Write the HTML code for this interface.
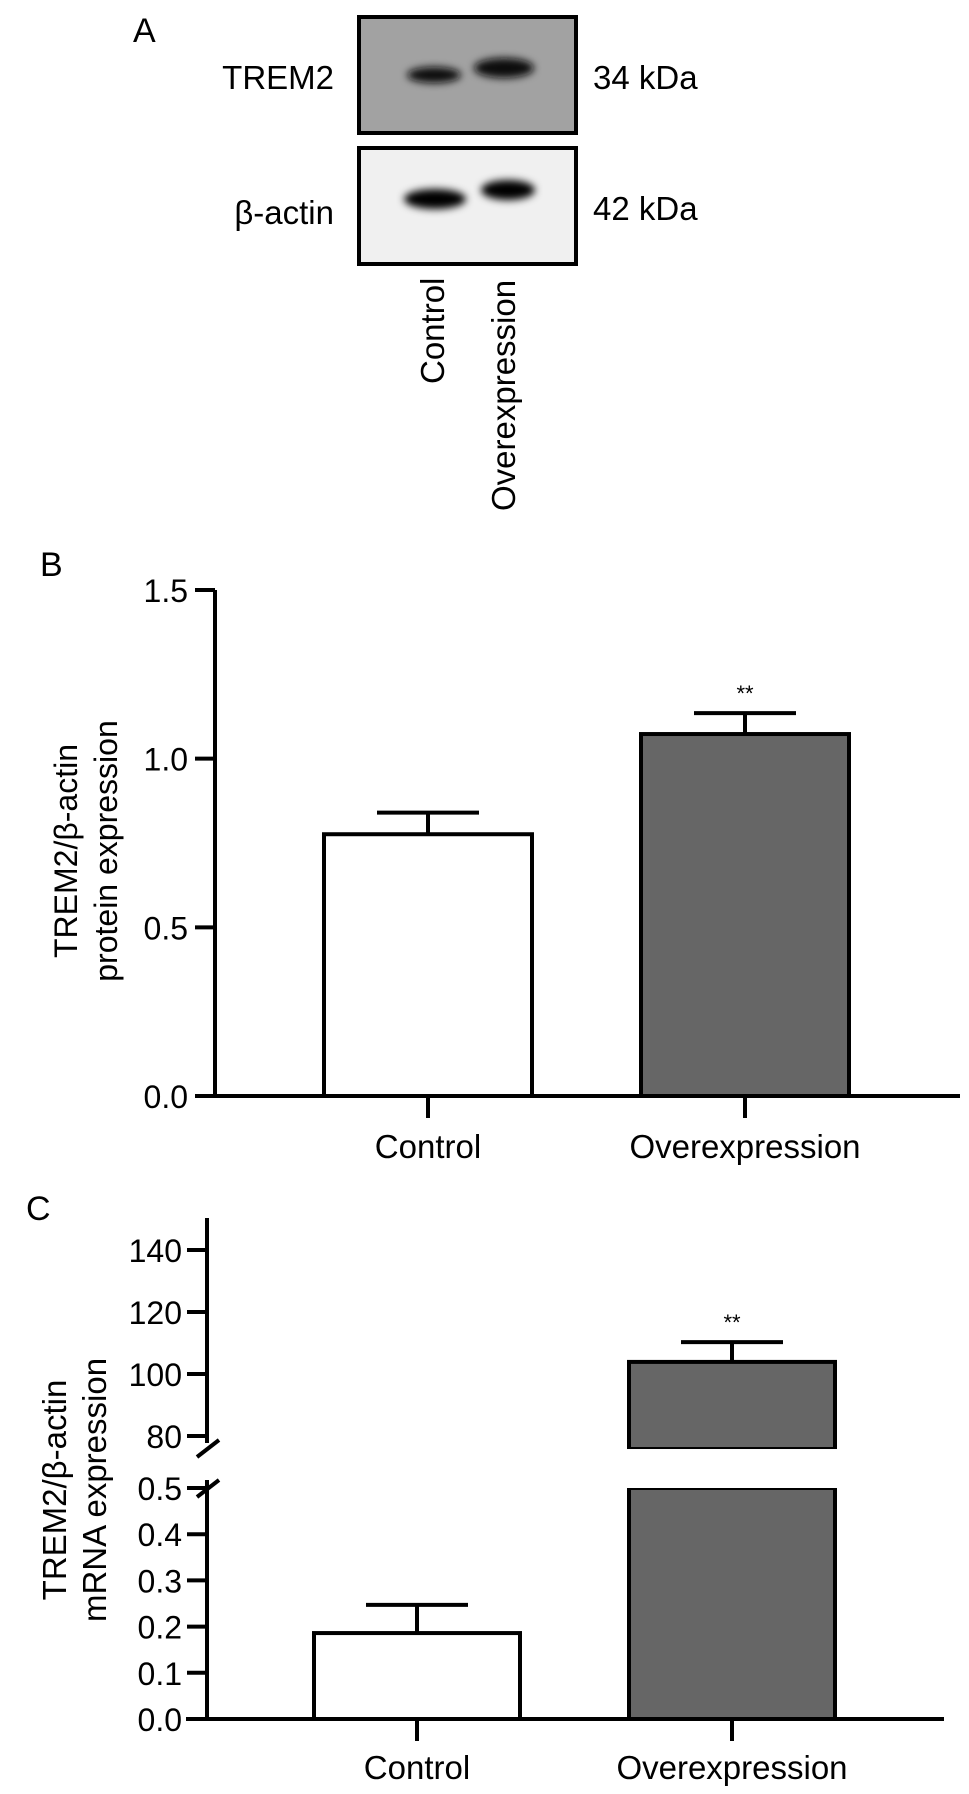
<!DOCTYPE html>
<html><head><meta charset="utf-8"><style>
html,body{margin:0;padding:0;background:#fff;}
svg{display:block;font-family:"Liberation Sans",Arial,sans-serif;}
</style></head><body>
<svg id="fig" width="969" height="1794" viewBox="0 0 969 1794" xmlns="http://www.w3.org/2000/svg">
<defs>
<filter id="blur" x="-30%" y="-60%" width="160%" height="220%"><feGaussianBlur stdDeviation="4"/></filter>
</defs>
<!-- Panel A -->
<g>
<text x="133" y="42" font-size="34">A</text>
<rect x="359" y="17" width="217" height="116" fill="#a2a2a2" stroke="#000" stroke-width="4"/>
<ellipse cx="434" cy="75" rx="27" ry="8" fill="#111" filter="url(#blur)"/>
<ellipse cx="504" cy="68" rx="30" ry="10" fill="#0a0a0a" filter="url(#blur)"/>
<rect x="359" y="148" width="217" height="116" fill="#f0f0f0" stroke="#000" stroke-width="4"/>
<ellipse cx="435" cy="199" rx="31" ry="10" fill="#000" filter="url(#blur)"/>
<ellipse cx="508" cy="190" rx="27" ry="10" fill="#000" filter="url(#blur)"/>
<text x="334" y="89" font-size="33" text-anchor="end">TREM2</text>
<text x="334" y="224" font-size="33" text-anchor="end">β-actin</text>
<text x="593" y="89" font-size="33">34 kDa</text>
<text x="593" y="220" font-size="33">42 kDa</text>
<text transform="translate(444,384) rotate(-90)" font-size="33">Control</text>
<text transform="translate(515,511) rotate(-90)" font-size="33">Overexpression</text>
</g>
<g id="panelB"></g>
<g id="panelC"></g>
</svg>
<script>
// Panel B data
const bCategories = ["Control", "Overexpression"];
const bValues = [0.776, 1.073];
const bErrors = [0.064, 0.062];
const bTicks = [0.0, 0.5, 1.0, 1.5];
const bTickLabels = ["0.0", "0.5", "1.0", "1.5"];
const bSig = ["", "**"];
// Panel C data
const cCategories = ["Control", "Overexpression"];
const cValues = [0.186, 103.9];
const cErrors = [0.061, 6.4];
const cLowTicks = [0.0, 0.1, 0.2, 0.3, 0.4, 0.5];
const cLowTickLabels = ["0.0", "0.1", "0.2", "0.3", "0.4", "0.5"];
const cHighTicks = [80, 100, 120, 140];
const cHighTickLabels = ["80", "100", "120", "140"];
const cSig = ["", "**"];

const NS = "http://www.w3.org/2000/svg";
function mk(parent, tag, attrs, text) {
  const e = document.createElementNS(NS, tag);
  for (const k in attrs) e.setAttribute(k, attrs[k]);
  if (text !== undefined) e.textContent = text;
  parent.appendChild(e);
  return e;
}
const fills = ["#ffffff", "#666666"];

// ---- Panel B ----
(function () {
  const g = document.getElementById("panelB");
  const y = v => 1096 - v * (1096 - 590) / 1.5;
  const axX = 215;
  const cx = [428, 745];
  const bw = 208;
  let t = mk(g, "text", {x: 40, y: 576, "font-size": 34});
  t.textContent = "B";
  
  
  bTicks.forEach((v, i) => {
    const tk = mk(g, "line", {x1: axX - 20, x2: axX, y1: y(v), y2: y(v), stroke: "#000", "stroke-width": 4});
    
    
    const lb = mk(g, "text", {x: 188, y: y(v) + 12, "font-size": 32, "text-anchor": "end"}, bTickLabels[i]);
    
    
  });
  bCategories.forEach((c, i) => {
    const top = y(bValues[i]);
    const bar = mk(g, "rect", {x: cx[i] - bw / 2, y: top, width: bw, height: y(0) - top, fill: fills[i], stroke: "#000", "stroke-width": 4});
    
    
    const et = y(bValues[i] + bErrors[i]);
    const el = mk(g, "path", {d: `M${cx[i]},${top}V${et}M${cx[i] - 51},${et}H${cx[i] + 51}`, stroke: "#000", "stroke-width": 4, fill: "none"});
    
    
    if (bSig[i]) {
      const s = mk(g, "text", {x: cx[i], y: et - 12, "font-size": 22, "text-anchor": "middle"}, bSig[i]);
      
      
    }
    const xt = mk(g, "line", {x1: cx[i], x2: cx[i], y1: y(0), y2: y(0) + 22, stroke: "#000", "stroke-width": 4});
    
    
    const xl = mk(g, "text", {x: cx[i], y: y(0) + 62, "font-size": 33, "text-anchor": "middle"}, c);
    
    
  });
  const ax = mk(g, "path", {d: `M${axX},${y(1.5)}V${y(0)}M${axX},${y(0)}H960`, stroke: "#000", "stroke-width": 4, fill: "none"});
  
  
  const yt = mk(g, "text", {transform: "translate(77,851) rotate(-90)", "font-size": 32, "text-anchor": "middle"}, "TREM2/β-actin");
  
  
  const yt2 = mk(g, "text", {transform: "translate(117,851) rotate(-90)", "font-size": 32, "text-anchor": "middle"}, "protein expression");
  
  
})();

// ---- Panel C ----
(function () {
  const g = document.getElementById("panelC");
  const yLow = v => 1719 - v * 462;          // 0..0.5
  const yHigh = v => 1436 - (v - 80) * 3.1;  // 75..150
  const axX = 207;
  const cx = [417, 732];
  const bw = 206;
  let t = mk(g, "text", {x: 26, y: 1220, "font-size": 34});
  t.textContent = "C";
  
  
  const addTick = (yy, lab) => {
    const tk = mk(g, "line", {x1: axX - 20, x2: axX, y1: yy, y2: yy, stroke: "#000", "stroke-width": 4});
    
    
    const lb = mk(g, "text", {x: 182, y: yy + 12, "font-size": 32, "text-anchor": "end"}, lab);
    
    
  };
  cLowTicks.forEach((v, i) => addTick(yLow(v), cLowTickLabels[i]));
  cHighTicks.forEach((v, i) => addTick(yHigh(v), cHighTickLabels[i]));
  const breakTop = yHigh(75.8), breakBot = yLow(0.5);
  cCategories.forEach((c, i) => {
    const v = cValues[i];
    let top, errTop;
    if (v <= 0.5) {
      top = yLow(v);
      const bar = mk(g, "rect", {x: cx[i] - bw / 2, y: top, width: bw, height: yLow(0) - top, fill: fills[i], stroke: "#000", "stroke-width": 4});
      
      
      errTop = yLow(v + cErrors[i]);
    } else {
      const low = mk(g, "path", {d: `M${cx[i] - bw / 2},${breakBot}V${yLow(0)}H${cx[i] + bw / 2}V${breakBot}Z`, fill: fills[i], stroke: "#000", "stroke-width": 4});
      
      
      top = yHigh(v);
      const up = mk(g, "rect", {x: cx[i] - bw / 2, y: top, width: bw, height: breakTop - top, fill: fills[i], stroke: "#000", "stroke-width": 4});
      
      
      const cover = mk(g, "rect", {x: cx[i] - bw / 2 - 3, y: breakTop, width: bw + 6, height: breakBot - breakTop, fill: "#fff"});
      
      
      errTop = yHigh(v + cErrors[i]);
    }
    const el = mk(g, "path", {d: `M${cx[i]},${top}V${errTop}M${cx[i] - 51},${errTop}H${cx[i] + 51}`, stroke: "#000", "stroke-width": 4, fill: "none"});
    
    
    if (cSig[i]) {
      const s = mk(g, "text", {x: cx[i], y: errTop - 12, "font-size": 22, "text-anchor": "middle"}, cSig[i]);
      
      
    }
    const xt = mk(g, "line", {x1: cx[i], x2: cx[i], y1: yLow(0), y2: yLow(0) + 22, stroke: "#000", "stroke-width": 4});
    
    
    const xl = mk(g, "text", {x: cx[i], y: yLow(0) + 60, "font-size": 33, "text-anchor": "middle"}, c);
    
    
  });
  const ax = mk(g, "path", {d: `M${axX},1218V1443M${axX},1480V${yLow(0)}M186,${yLow(0)}H944`, stroke: "#000", "stroke-width": 4, fill: "none"});
  
  
  const br = mk(g, "path", {d: "M197,1457L219,1440M197,1497L219,1480", stroke: "#000", "stroke-width": 4, fill: "none"});
  
  
  const yt = mk(g, "text", {transform: "translate(66,1490) rotate(-90)", "font-size": 33, "text-anchor": "middle"}, "TREM2/β-actin");
  
  
  const yt2 = mk(g, "text", {transform: "translate(106,1490) rotate(-90)", "font-size": 33, "text-anchor": "middle"}, "mRNA expression");
  
  
})();
</script>
</body></html>
